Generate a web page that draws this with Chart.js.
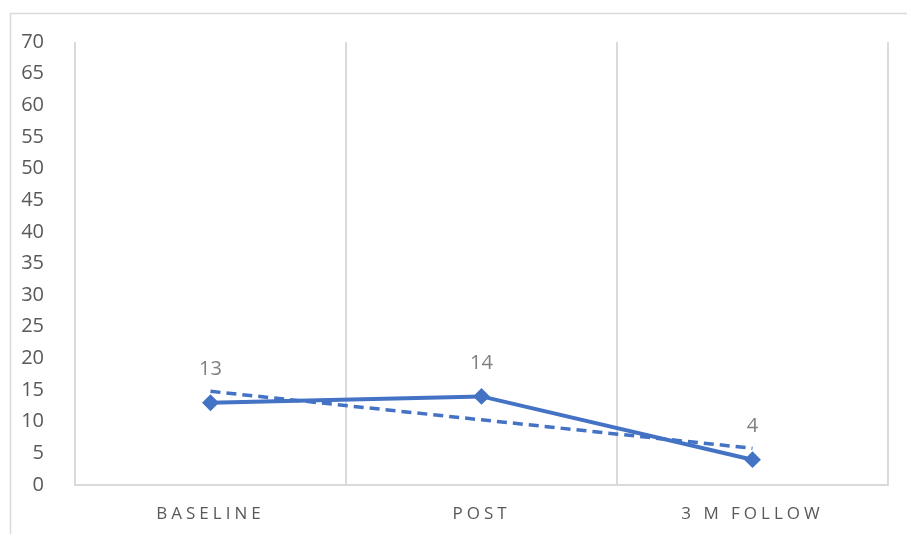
<!DOCTYPE html>
<html>
<head>
<meta charset="utf-8">
<script src="https://cdn.jsdelivr.net/npm/chart.js@4/dist/chart.umd.min.js"></script>
<style>
  html, body { margin: 0; padding: 0; background: #fff; }
  #wrap { width: 907px; height: 534px; }
</style>
</head>
<body>
<div id="wrap"><canvas id="score-graph" width="907" height="534"></canvas></div>
<script>
const categories = ['BASELINE', 'POST', '3 M FOLLOW'];
const scores = [13, 14, 4];
const trendValues = [14.8, 10.3, 5.8];
const yTicks = { min: 0, max: 70, step: 5 };

const lineBlue = '#4472C4';
const gridGrey = '#dadada';

// frame round the whole chart
const frame = {
    id: 'frame',
    beforeDraw(chart) {
        const ctx = chart.ctx;
        ctx.save();
        ctx.strokeStyle = gridGrey;
        ctx.lineWidth = 1.5;
        ctx.strokeRect(10.5, 13.5, chart.width, chart.height);
        ctx.restore();
    }
};

// spaced-out category names under the axis
const categoryLabels = {
    id: 'categoryLabels',
    afterDraw(chart) {
        const ctx = chart.ctx;
        const xScale = chart.scales.x;
        ctx.save();
        ctx.font = '17px "Open Sans"';
        ctx.fillStyle = '#595959';
        ctx.textBaseline = 'middle';
        ctx.textAlign = 'left';
        ctx.letterSpacing = '4px';
        categories.forEach((name, i) => {
            const w = ctx.measureText(name).width - 4;
            ctx.fillText(name, xScale.getPixelForTick(i) - w / 2 - 2, 514);
        });
        ctx.restore();
    }
};

// value above each marker
const valueLabels = {
    id: 'valueLabels',
    afterDatasetsDraw(chart) {
        const ctx = chart.ctx;
        const meta = chart.getDatasetMeta(0);
        ctx.save();
        ctx.font = '20px "Open Sans"';
        ctx.fillStyle = '#7f7f7f';
        ctx.textAlign = 'center';
        ctx.textBaseline = 'middle';
        meta.data.forEach((pt, i) => {
            ctx.fillText(String(scores[i]), pt.x, pt.y - 33);
        });
        ctx.restore();
    }
};

const scoreChart = new Chart(document.getElementById('score-graph'), {
    type: 'line',
    data: {
        labels: categories,
        datasets: [{
            data: scores,
            borderColor: lineBlue,
            backgroundColor: lineBlue,
            borderWidth: 4,
            pointStyle: 'rectRot',
            pointRadius: 7,
            pointBorderWidth: 2,
            pointBackgroundColor: lineBlue,
            pointBorderColor: lineBlue,
            tension: 0,
            order: 1
        }, {
            data: trendValues,
            borderColor: lineBlue,
            borderWidth: 3.5,
            borderDash: [10, 6],
            pointRadius: 0,
            tension: 0,
            order: 2
        }]
    },
    options: {
        responsive: false,
        animation: false,
        layout: {
            padding: { left: 10, top: 42, right: 19, bottom: 0 }
        },
        plugins: {
            legend: { display: false },
            tooltip: { enabled: false }
        },
        scales: {
            x: {
                offset: true,
                grid: { display: true, offset: true, color: gridGrey, lineWidth: 2, drawTicks: false },
                border: { display: true, color: gridGrey, width: 2 },
                ticks: { display: false },
                afterFit: (scale) => { scale.height = 49; }
            },
            y: {
                min: yTicks.min,
                max: yTicks.max,
                grid: { display: false },
                border: { display: false },
                ticks: {
                    stepSize: yTicks.step,
                    padding: 23,
                    color: '#595959',
                    font: { family: 'Open Sans', size: 20 }
                },
                afterFit: (scale) => { scale.width = 65; }
            }
        }
    },
    plugins: [frame, categoryLabels, valueLabels]
});
</script>
</body>
</html>
